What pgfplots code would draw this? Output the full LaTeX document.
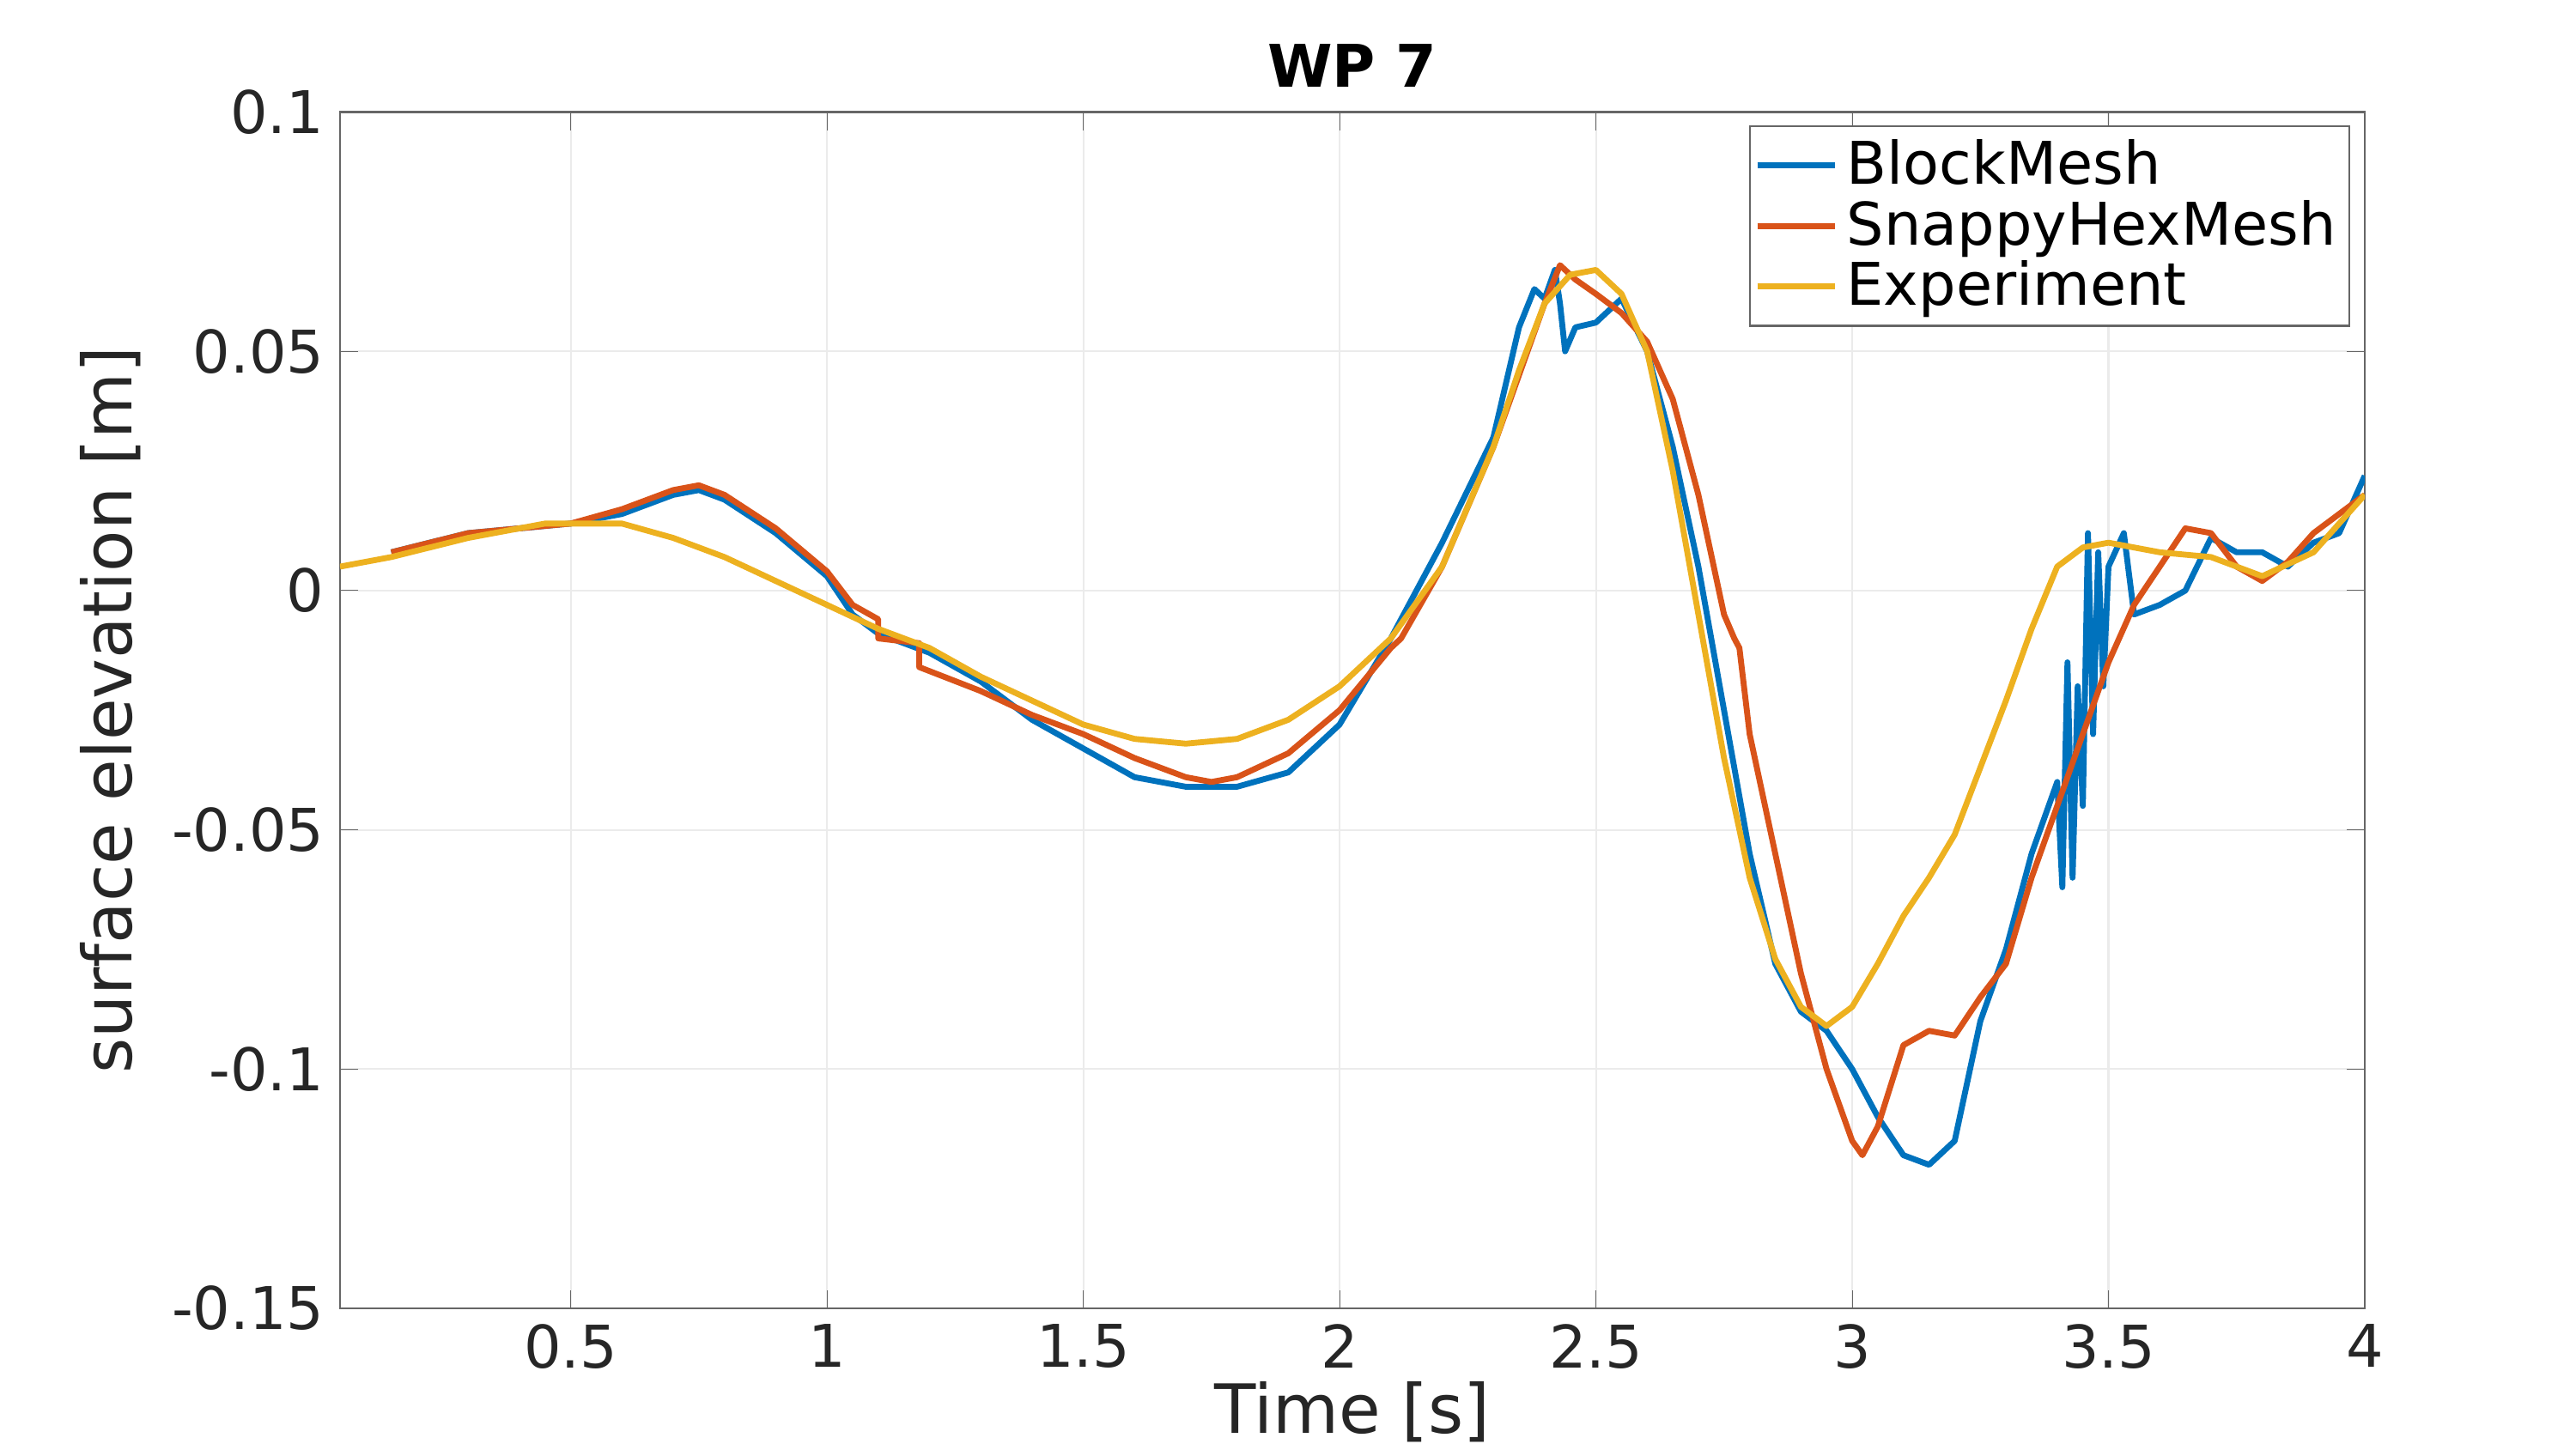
\documentclass[border=0pt]{standalone}
\usepackage{pgfplots}
\pgfplotsset{compat=1.18}
\usepackage{fontspec}
\setmainfont{DejaVu Sans}
\definecolor{mb}{RGB}{0,114,189}
\definecolor{mr}{RGB}{217,83,25}
\definecolor{my}{RGB}{237,177,32}
\begin{document}
\begin{tikzpicture}
\begin{axis}[at={(0,0)},anchor=south west,width=15.72cm,height=9.29cm,scale only axis,
xmin=0.05,xmax=4,ymin=-0.15,ymax=0.1,
xtick={0.5,1,1.5,2,2.5,3,3.5,4},ytick={-0.15,-0.1,-0.05,0,0.05,0.1},
yticklabels={-0.15,-0.1,-0.05,0,0.05,0.1},
/pgf/number format/assume math mode=true,
tick label style={font=\fontsize{13}{15}\selectfont,color=black!85},
label style={font=\fontsize{15}{18}\selectfont,color=black!85},
xlabel={Time [s]},ylabel={surface elevation [m]},
xlabel style={yshift=4pt},
title={\textbf{WP 7}},title style={font=\fontsize{13}{15}\selectfont,yshift=-4pt},
grid=major,grid style={black!8},axis line style={black!60},
tick align=inside,major tick length=4pt,tick style={black!60},
legend cell align=left,
legend style={at={(0.993,0.989)},anchor=north east,font=\fontsize{13}{15}\selectfont,draw=black!60,inner sep=1pt,row sep=-2pt},
every axis plot/.append style={line width=1.3pt,line join=round}]
\addplot[mb] coordinates {(0.15,0.008)(0.3,0.012)(0.5,0.014)(0.6,0.016)(0.7,0.02)(0.75,0.021)(0.8,0.019)(0.9,0.012)(1.0,0.003)(1.05,-0.005)(1.1,-0.009)(1.2,-0.013)(1.3,-0.019)(1.4,-0.027)(1.5,-0.033)(1.6,-0.039)(1.7,-0.041)(1.8,-0.041)(1.9,-0.038)(2.0,-0.028)(2.1,-0.01)(2.2,0.01)(2.3,0.032)(2.35,0.055)(2.38,0.063)(2.4,0.061)(2.42,0.067)(2.43,0.06)(2.44,0.05)(2.46,0.055)(2.5,0.056)(2.55,0.061)(2.6,0.05)(2.65,0.03)(2.7,0.005)(2.75,-0.025)(2.8,-0.055)(2.85,-0.078)(2.9,-0.088)(2.95,-0.092)(3.0,-0.1)(3.05,-0.11)(3.1,-0.118)(3.15,-0.12)(3.2,-0.115)(3.25,-0.09)(3.3,-0.075)(3.35,-0.055)(3.4,-0.04)(3.41,-0.062)(3.42,-0.015)(3.43,-0.06)(3.44,-0.02)(3.45,-0.045)(3.46,0.012)(3.47,-0.03)(3.48,0.008)(3.49,-0.02)(3.5,0.005)(3.53,0.012)(3.55,-0.005)(3.6,-0.003)(3.65,0)(3.7,0.011)(3.75,0.008)(3.8,0.008)(3.85,0.005)(3.9,0.01)(3.95,0.012)(4.0,0.024)};
\addlegendentry{BlockMesh}
\addplot[mr] coordinates {(0.15,0.008)(0.3,0.012)(0.5,0.014)(0.6,0.017)(0.7,0.021)(0.75,0.022)(0.8,0.02)(0.9,0.013)(1.0,0.004)(1.05,-0.003)(1.1,-0.006)(1.1,-0.01)(1.18,-0.011)(1.18,-0.016)(1.3,-0.021)(1.4,-0.026)(1.5,-0.03)(1.6,-0.035)(1.7,-0.039)(1.75,-0.04)(1.8,-0.039)(1.9,-0.034)(2.0,-0.025)(2.1,-0.012)(2.12,-0.01)(2.2,0.005)(2.3,0.03)(2.35,0.045)(2.4,0.06)(2.43,0.068)(2.46,0.065)(2.5,0.062)(2.55,0.058)(2.6,0.052)(2.65,0.04)(2.7,0.02)(2.75,-0.005)(2.77,-0.01)(2.78,-0.012)(2.8,-0.03)(2.85,-0.055)(2.9,-0.08)(2.95,-0.1)(3.0,-0.115)(3.02,-0.118)(3.05,-0.112)(3.1,-0.095)(3.15,-0.092)(3.2,-0.093)(3.25,-0.085)(3.3,-0.078)(3.35,-0.06)(3.4,-0.045)(3.45,-0.03)(3.5,-0.015)(3.55,-0.003)(3.6,0.005)(3.65,0.013)(3.7,0.012)(3.75,0.005)(3.8,0.002)(3.85,0.006)(3.9,0.012)(4.0,0.02)};
\addlegendentry{SnappyHexMesh}
\addplot[my] coordinates {(0.05,0.005)(0.15,0.007)(0.3,0.011)(0.45,0.014)(0.6,0.014)(0.7,0.011)(0.8,0.007)(0.9,0.002)(1.0,-0.003)(1.1,-0.008)(1.2,-0.012)(1.3,-0.018)(1.4,-0.023)(1.5,-0.028)(1.6,-0.031)(1.7,-0.032)(1.8,-0.031)(1.9,-0.027)(2.0,-0.02)(2.1,-0.01)(2.2,0.005)(2.3,0.03)(2.35,0.046)(2.4,0.06)(2.45,0.066)(2.5,0.067)(2.55,0.062)(2.6,0.05)(2.65,0.025)(2.7,-0.005)(2.75,-0.035)(2.8,-0.06)(2.85,-0.077)(2.9,-0.087)(2.95,-0.091)(3.0,-0.087)(3.05,-0.078)(3.1,-0.068)(3.15,-0.06)(3.2,-0.051)(3.25,-0.037)(3.3,-0.023)(3.35,-0.008)(3.4,0.005)(3.45,0.009)(3.5,0.01)(3.6,0.008)(3.7,0.007)(3.8,0.003)(3.9,0.008)(4.0,0.02)};
\addlegendentry{Experiment}
\end{axis}
\pgfresetboundingbox
\path[use as bounding box] (-2.64cm,-1.10cm) rectangle (17.36cm,10.16cm);
\end{tikzpicture}
\end{document}
